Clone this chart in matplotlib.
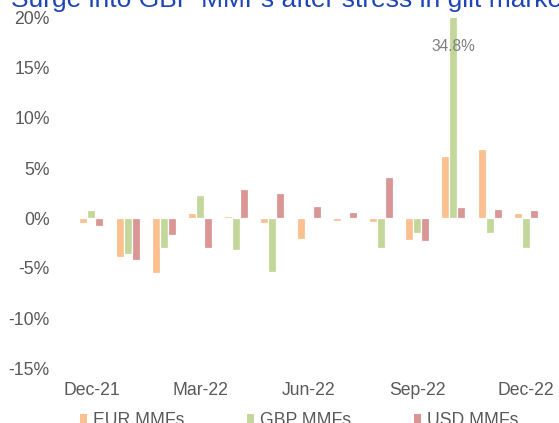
import matplotlib
matplotlib.use("Agg")
import matplotlib.pyplot as plt
import numpy as np
from matplotlib.patches import Patch

months = ["Dec-21", "Jan-22", "Feb-22", "Mar-22", "Apr-22", "May-22", "Jun-22",
          "Jul-22", "Aug-22", "Sep-22", "Oct-22", "Nov-22", "Dec-22"]
eur = [-0.5, -3.9, -5.5, 0.45, 0.2, -0.5, -2.1, -0.35, -0.45, -2.2, 6.2, 6.85, 0.45]
gbp = [0.83, -3.6, -3.0, 2.3, -3.2, -5.35, 0.05, 0.1, -3.0, -1.55, 34.8, -1.55, -3.05]
usd = [-0.84, -4.2, -1.75, -3.0, 2.85, 2.45, 1.15, 0.6, 4.05, -2.3, 1.05, 0.93, 0.83]
series_names = ["EUR MMFs", "GBP MMFs", "USD MMFs"]
colors = ["#FAC090", "#C4D79B", "#DA9694"]
tick_labels = ["Dec-21", "Mar-22", "Jun-22", "Sep-22", "Dec-22"]
yticks = [-15, -10, -5, 0, 5, 10, 15, 20]
title = "Surge into GBP MMFs after stress in gilt market"

plt.rcParams['font.family'] = ['Liberation Sans', 'DejaVu Sans']
W, H = 559, 423
fig = plt.figure(figsize=(W / 100, H / 100), dpi=100)
ax = fig.add_axes([73.4 / W, 1 - 368 / H, (543.8 - 73.4) / W, (368 - 18) / H])

x = np.arange(len(months))
bw = 0.221
for i, (vals, c) in enumerate(zip([eur, gbp, usd], colors)):
    ax.bar(x + (i - 1) * bw, vals, width=bw, color=c, edgecolor="white", linewidth=0.9)

ax.set_xlim(-0.5, len(months) - 0.5)
ax.set_ylim(-15, 20)
ax.set_yticks(yticks)
ax.set_yticklabels([f"{v}%" for v in yticks])
ax.set_xticks([months.index(m) for m in tick_labels])
ax.set_xticklabels(tick_labels)
for s in ax.spines.values():
    s.set_visible(False)
ax.tick_params(axis="both", length=0, labelsize=12.7, colors="#595959")
ax.tick_params(axis="y", pad=17)
ax.tick_params(axis="x", pad=10)

# data label for clipped bar
k = int(np.argmax(gbp))
ax.text(x[k], 17.1, f"{gbp[k]:.1f}%", ha="center", va="center", fontsize=11.2,
        color="#7F7F7F")

handles = [Patch(facecolor=c, edgecolor="none") for c in colors]
fig.legend(handles, series_names, loc="center", bbox_to_anchor=(299.4 / W, 1 - 420.5 / H),
           ncol=3, frameon=False, fontsize=12.7, handlelength=0.4, handleheight=0.4,
           handletextpad=0.34, columnspacing=3.55, labelcolor="#595959",
           borderpad=0, borderaxespad=0)

fig.text(11 / W, 1 - 7.5 / H, title, ha="left", va="baseline", fontsize=19,
         color="#1E45B5")

fig.savefig("out.png", dpi=100)
